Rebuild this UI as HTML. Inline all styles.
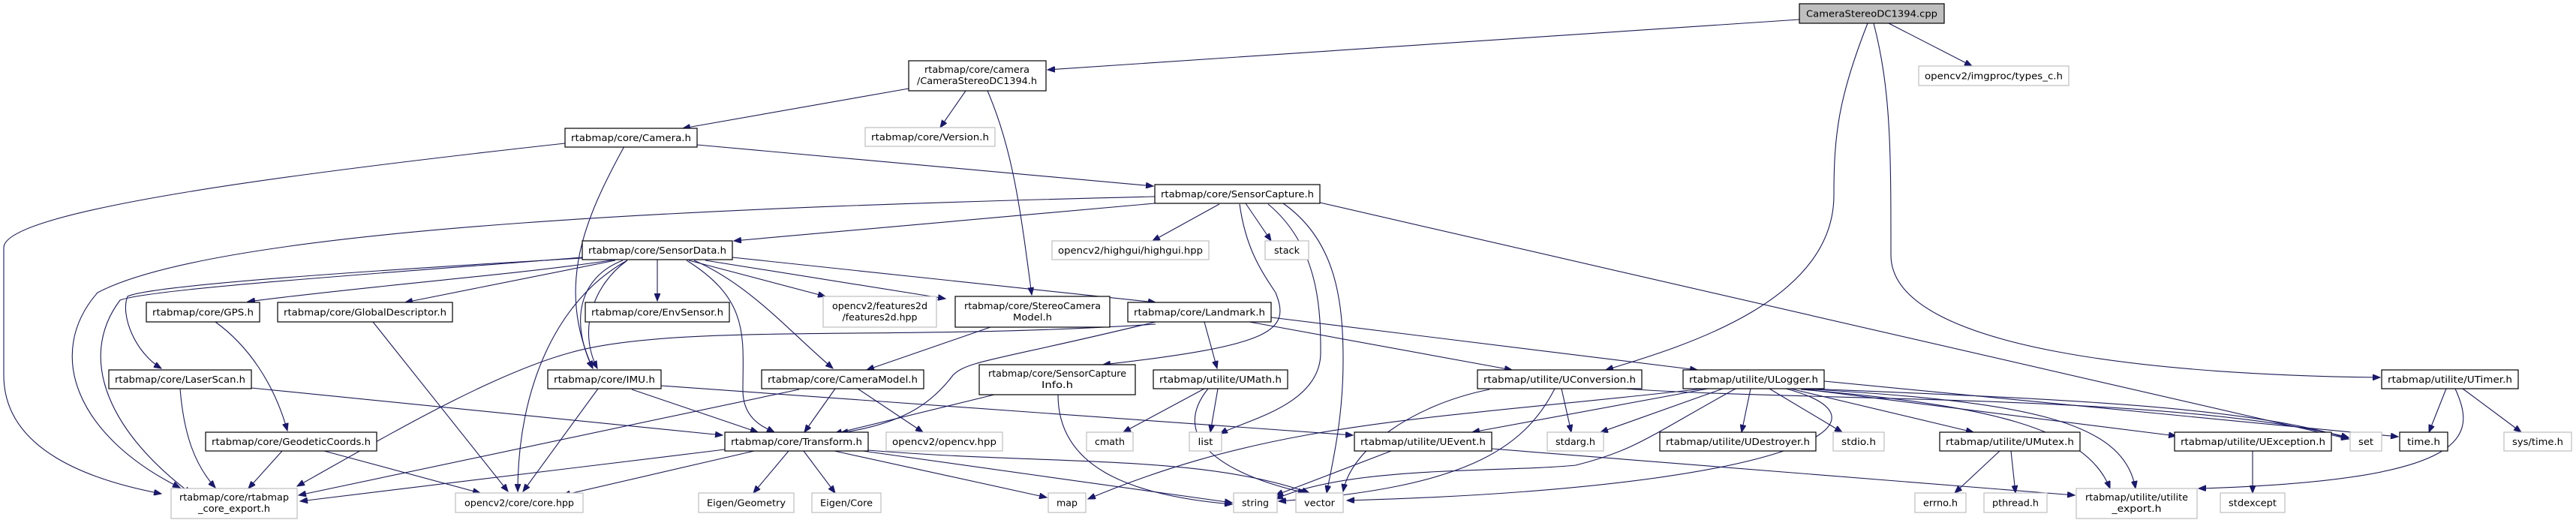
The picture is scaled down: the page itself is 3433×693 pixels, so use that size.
<!DOCTYPE html>
<html><head><meta charset="utf-8"><style>
html,body{margin:0;padding:0;background:#fff;}
svg{display:block;}
text{font-family:"DejaVu Sans","Liberation Sans",sans-serif;font-size:12px;fill:#000;}
.b{fill:#fff;stroke:#000;stroke-width:1.2;}
.g{fill:#fff;stroke:#bfbfbf;stroke-width:1.2;}
.e{fill:none;stroke:#191970;stroke-width:1.1;}
</style></head><body>
<svg width="3433" height="693" viewBox="0 0 3433 693" xmlns="http://www.w3.org/2000/svg">
<defs><marker id="a" markerWidth="11" markerHeight="8" refX="10" refY="4" orient="auto" markerUnits="userSpaceOnUse"><path d="M0,0 L10,4 L0,8 z" fill="#191970" stroke="#191970"/></marker></defs>
<g marker-end="url(#a)">
<path class="e" d="M2398,26 L1396,93"/>
<path class="e" d="M2517,31 L2628,88"/>
<path class="e" d="M2489,31 C2450,130 2444,180 2444,260 C2444,400 2250,460 2140,493"/>
<path class="e" d="M2497,31 C2520,120 2520,200 2520,340 C2520,470 2900,500 3172,503"/>
<path class="e" d="M1211,118 L910,171"/>
<path class="e" d="M1287,121 L1253,170"/>
<path class="e" d="M1316,121 C1350,200 1360,280 1375,393"/>
<path class="e" d="M753,191 C400,230 5,280 5,330 L5,500 C5,600 120,640 215,658"/>
<path class="e" d="M929,193 L1537,248"/>
<path class="e" d="M832,195 C780,290 740,380 790,491"/>
<path class="e" d="M1539,271 L978,321"/>
<path class="e" d="M1539,262 C1000,275 300,300 130,390 C60,470 100,580 240,650"/>
<path class="e" d="M1625,272 L1536,321"/>
<path class="e" d="M1660,271 L1694,321"/>
<path class="e" d="M1690,272 C1760,330 1760,420 1760,470 C1760,540 1660,560 1626,578"/>
<path class="e" d="M1710,271 C1780,320 1790,400 1790,480 C1790,560 1775,620 1768,657"/>
<path class="e" d="M1652,272 C1660,330 1680,360 1700,390 C1720,440 1700,460 1470,486"/>
<path class="e" d="M1759,270 L3130,585"/>
<path class="e" d="M820,346 C700,365 500,380 330,402"/>
<path class="e" d="M820,347 L540,403"/>
<path class="e" d="M876,346 L876,401"/>
<path class="e" d="M830,347 C770,370 760,430 790,491"/>
<path class="e" d="M836,347 C790,380 770,440 796,491"/>
<path class="e" d="M776,344 C500,360 200,380 170,395 C160,420 180,470 215,491"/>
<path class="e" d="M776,343 C500,365 200,385 160,400 C100,480 150,580 255,658"/>
<path class="e" d="M836,347 C740,400 690,520 690,655"/>
<path class="e" d="M918,347 L1100,395"/>
<path class="e" d="M940,347 L1260,398"/>
<path class="e" d="M976,343 L1540,403"/>
<path class="e" d="M925,347 C1000,380 1050,440 1110,491"/>
<path class="e" d="M915,347 C1000,400 990,450 990,520 C990,560 1020,570 1032,576"/>
<path class="e" d="M287,429 C330,460 365,510 383,574"/>
<path class="e" d="M497,429 L677,655"/>
<path class="e" d="M240,518 C245,580 260,620 287,650"/>
<path class="e" d="M335,517 L963,580"/>
<path class="e" d="M797,518 L697,655"/>
<path class="e" d="M842,519 L1010,576"/>
<path class="e" d="M881,514 L1803,580"/>
<path class="e" d="M376,601 L331,651"/>
<path class="e" d="M432,601 L640,657"/>
<path class="e" d="M1320,436 L1155,493"/>
<path class="e" d="M1113,518 L1072,576"/>
<path class="e" d="M1143,518 L1230,576"/>
<path class="e" d="M1065,519 L398,660"/>
<path class="e" d="M1540,429 C1330,480 1290,480 1270,500 C1240,540 1200,565 1120,577"/>
<path class="e" d="M1540,432 C1200,455 900,430 760,470 C650,500 500,590 396,648"/>
<path class="e" d="M1605,429 L1622,491"/>
<path class="e" d="M1665,429 L2015,493"/>
<path class="e" d="M1694,423 L2262,493"/>
<path class="e" d="M1325,526 L1112,578"/>
<path class="e" d="M1410,526 C1410,620 1500,660 1642,672"/>
<path class="e" d="M1605,518 L1497,576"/>
<path class="e" d="M1623,518 L1613,576"/>
<path class="e" d="M1610,518 C1560,580 1620,630 1740,657"/>
<path class="e" d="M1051,601 L1004,657"/>
<path class="e" d="M1071,601 L1113,657"/>
<path class="e" d="M1112,601 L1395,663"/>
<path class="e" d="M1150,601 L1642,670"/>
<path class="e" d="M1157,600 C1400,620 1600,605 1745,657"/>
<path class="e" d="M966,599 L400,668"/>
<path class="e" d="M1005,601 L750,660"/>
<path class="e" d="M2072,518 C2030,600 1950,650 1704,668"/>
<path class="e" d="M1985,519 C1880,540 1800,600 1790,655"/>
<path class="e" d="M2081,518 L2094,576"/>
<path class="e" d="M2165,518 C2400,535 2900,525 3130,583"/>
<path class="e" d="M2276,518 L1962,576"/>
<path class="e" d="M2270,518 C1900,560 1700,560 1450,665"/>
<path class="e" d="M2296,518 L2133,576"/>
<path class="e" d="M2313,518 C2200,580 2180,600 2100,620 C2000,630 1800,620 1700,665"/>
<path class="e" d="M2380,518 C2540,560 2400,650 1795,667"/>
<path class="e" d="M2333,518 L2321,576"/>
<path class="e" d="M2358,518 L2455,576"/>
<path class="e" d="M2386,518 L2630,576"/>
<path class="e" d="M2400,518 L2900,581"/>
<path class="e" d="M2410,518 C2700,530 3000,540 3130,585"/>
<path class="e" d="M2431,508 L3196,582"/>
<path class="e" d="M2400,518 C2700,535 2830,560 2846,651"/>
<path class="e" d="M2400,519 C2650,540 2780,570 2812,651"/>
<path class="e" d="M1988,598 L2765,660"/>
<path class="e" d="M1854,601 L1700,660"/>
<path class="e" d="M2665,601 L2605,657"/>
<path class="e" d="M2680,601 L2686,657"/>
<path class="e" d="M3002,601 L3002,657"/>
<path class="e" d="M3260,518 L3237,576"/>
<path class="e" d="M3282,518 L3360,576"/>
<path class="e" d="M3272,518 C3300,580 3300,640 2930,651"/>
</g>
<g text-anchor="middle">
<rect x="2398" y="5" width="193" height="26" fill="#bfbfbf" stroke="#000" stroke-width="1.2"/><text x="2494.5" y="22.5" textLength="175" lengthAdjust="spacingAndGlyphs">CameraStereoDC1394.cpp</text>
<rect class="b" x="1211" y="81" width="183" height="40"/><text x="1302" y="97" textLength="140" lengthAdjust="spacingAndGlyphs">rtabmap/core/camera</text><text x="1302" y="112" textLength="160" lengthAdjust="spacingAndGlyphs">/CameraStereoDC1394.h</text>
<rect class="g" x="2557" y="88" width="200" height="26"/><text x="2657" y="105.5" textLength="184" lengthAdjust="spacingAndGlyphs">opencv2/imgproc/types_c.h</text>
<rect class="b" x="753" y="171" width="176" height="25"/><text x="841" y="188" textLength="160" lengthAdjust="spacingAndGlyphs">rtabmap/core/Camera.h</text>
<rect class="g" x="1153" y="170" width="173" height="25"/><text x="1239.5" y="187" textLength="157" lengthAdjust="spacingAndGlyphs">rtabmap/core/Version.h</text>
<rect class="b" x="1539" y="246" width="220" height="25"/><text x="1649" y="263" textLength="204" lengthAdjust="spacingAndGlyphs">rtabmap/core/SensorCapture.h</text>
<rect class="b" x="776" y="321" width="200" height="25"/><text x="876" y="338" textLength="184" lengthAdjust="spacingAndGlyphs">rtabmap/core/SensorData.h</text>
<rect class="g" x="1402" y="321" width="209" height="25"/><text x="1506.5" y="338" textLength="193" lengthAdjust="spacingAndGlyphs">opencv2/highgui/highgui.hpp</text>
<rect class="g" x="1686" y="321" width="58" height="25"/><text x="1715" y="338" textLength="34" lengthAdjust="spacingAndGlyphs">stack</text>
<rect class="b" x="195" y="403" width="151" height="26"/><text x="270.5" y="420.5" textLength="135" lengthAdjust="spacingAndGlyphs">rtabmap/core/GPS.h</text>
<rect class="b" x="370" y="403" width="233" height="26"/><text x="486.5" y="420.5" textLength="217" lengthAdjust="spacingAndGlyphs">rtabmap/core/GlobalDescriptor.h</text>
<rect class="b" x="780" y="403" width="192" height="26"/><text x="876" y="420.5" textLength="176" lengthAdjust="spacingAndGlyphs">rtabmap/core/EnvSensor.h</text>
<rect class="g" x="1097" y="395" width="151" height="41"/><text x="1172.5" y="412" textLength="127" lengthAdjust="spacingAndGlyphs">opencv2/features2d</text><text x="1172.5" y="427" textLength="100" lengthAdjust="spacingAndGlyphs">/features2d.hpp</text>
<rect class="b" x="1273" y="395" width="206" height="41"/><text x="1376" y="412" textLength="182" lengthAdjust="spacingAndGlyphs">rtabmap/core/StereoCamera</text><text x="1376" y="427" textLength="52" lengthAdjust="spacingAndGlyphs">Model.h</text>
<rect class="b" x="1503" y="403" width="191" height="26"/><text x="1598.5" y="420.5" textLength="175" lengthAdjust="spacingAndGlyphs">rtabmap/core/Landmark.h</text>
<rect class="b" x="145" y="493" width="190" height="25"/><text x="240" y="510" textLength="174" lengthAdjust="spacingAndGlyphs">rtabmap/core/LaserScan.h</text>
<rect class="b" x="730" y="493" width="151" height="25"/><text x="805.5" y="510" textLength="135" lengthAdjust="spacingAndGlyphs">rtabmap/core/IMU.h</text>
<rect class="b" x="1015" y="493" width="216" height="25"/><text x="1123" y="510" textLength="200" lengthAdjust="spacingAndGlyphs">rtabmap/core/CameraModel.h</text>
<rect class="b" x="1305" y="486" width="208" height="40"/><text x="1409" y="502" textLength="184" lengthAdjust="spacingAndGlyphs">rtabmap/core/SensorCapture</text><text x="1409" y="517" textLength="42" lengthAdjust="spacingAndGlyphs">Info.h</text>
<rect class="b" x="1537" y="493" width="179" height="25"/><text x="1626.5" y="510" textLength="163" lengthAdjust="spacingAndGlyphs">rtabmap/utilite/UMath.h</text>
<rect class="b" x="1969" y="493" width="219" height="25"/><text x="2078.5" y="510" textLength="203" lengthAdjust="spacingAndGlyphs">rtabmap/utilite/UConversion.h</text>
<rect class="b" x="2243" y="493" width="188" height="25"/><text x="2337" y="510" textLength="172" lengthAdjust="spacingAndGlyphs">rtabmap/utilite/ULogger.h</text>
<rect class="b" x="3174" y="493" width="182" height="25"/><text x="3265" y="510" textLength="166" lengthAdjust="spacingAndGlyphs">rtabmap/utilite/UTimer.h</text>
<rect class="b" x="274" y="576" width="228" height="25"/><text x="388" y="593" textLength="212" lengthAdjust="spacingAndGlyphs">rtabmap/core/GeodeticCoords.h</text>
<rect class="b" x="966" y="576" width="191" height="25"/><text x="1061.5" y="593" textLength="175" lengthAdjust="spacingAndGlyphs">rtabmap/core/Transform.h</text>
<rect class="g" x="1181" y="576" width="155" height="25"/><text x="1258.5" y="593" textLength="139" lengthAdjust="spacingAndGlyphs">opencv2/opencv.hpp</text>
<rect class="g" x="1448" y="576" width="62" height="25"/><text x="1479" y="593" textLength="40" lengthAdjust="spacingAndGlyphs">cmath</text>
<rect class="g" x="1585" y="576" width="43" height="25"/><text x="1606.5" y="593" textLength="20" lengthAdjust="spacingAndGlyphs">list</text>
<rect class="b" x="1805" y="576" width="183" height="25"/><text x="1896.5" y="593" textLength="167" lengthAdjust="spacingAndGlyphs">rtabmap/utilite/UEvent.h</text>
<rect class="g" x="2062" y="576" width="75" height="25"/><text x="2099.5" y="593" textLength="53" lengthAdjust="spacingAndGlyphs">stdarg.h</text>
<rect class="b" x="2212" y="576" width="208" height="25"/><text x="2316" y="593" textLength="192" lengthAdjust="spacingAndGlyphs">rtabmap/utilite/UDestroyer.h</text>
<rect class="g" x="2443" y="576" width="68" height="25"/><text x="2477" y="593" textLength="46" lengthAdjust="spacingAndGlyphs">stdio.h</text>
<rect class="b" x="2585" y="576" width="187" height="25"/><text x="2678.5" y="593" textLength="171" lengthAdjust="spacingAndGlyphs">rtabmap/utilite/UMutex.h</text>
<rect class="b" x="2898" y="576" width="209" height="25"/><text x="3002.5" y="593" textLength="193" lengthAdjust="spacingAndGlyphs">rtabmap/utilite/UException.h</text>
<rect class="g" x="3132" y="576" width="42" height="25"/><text x="3153" y="593" textLength="20" lengthAdjust="spacingAndGlyphs">set</text>
<rect class="b" x="3198" y="576" width="64" height="25"/><text x="3230" y="593" textLength="44" lengthAdjust="spacingAndGlyphs">time.h</text>
<rect class="g" x="3337" y="576" width="90" height="25"/><text x="3382" y="593" textLength="68" lengthAdjust="spacingAndGlyphs">sys/time.h</text>
<rect class="g" x="228" y="651" width="168" height="40"/><text x="312" y="667" textLength="146" lengthAdjust="spacingAndGlyphs">rtabmap/core/rtabmap</text><text x="312" y="682" textLength="96" lengthAdjust="spacingAndGlyphs">_core_export.h</text>
<rect class="g" x="607" y="657" width="170" height="26"/><text x="692" y="674.5" textLength="146" lengthAdjust="spacingAndGlyphs">opencv2/core/core.hpp</text>
<rect class="g" x="931" y="657" width="127" height="26"/><text x="994.5" y="674.5" textLength="105" lengthAdjust="spacingAndGlyphs">Eigen/Geometry</text>
<rect class="g" x="1082" y="657" width="92" height="26"/><text x="1128" y="674.5" textLength="70" lengthAdjust="spacingAndGlyphs">Eigen/Core</text>
<rect class="g" x="1397" y="657" width="50" height="26"/><text x="1422" y="674.5" textLength="28" lengthAdjust="spacingAndGlyphs">map</text>
<rect class="g" x="1644" y="657" width="58" height="26"/><text x="1673" y="674.5" textLength="36" lengthAdjust="spacingAndGlyphs">string</text>
<rect class="g" x="1727" y="657" width="63" height="26"/><text x="1758.5" y="674.5" textLength="41" lengthAdjust="spacingAndGlyphs">vector</text>
<rect class="g" x="2552" y="657" width="68" height="26"/><text x="2586" y="674.5" textLength="46" lengthAdjust="spacingAndGlyphs">errno.h</text>
<rect class="g" x="2644" y="657" width="84" height="26"/><text x="2686" y="674.5" textLength="62" lengthAdjust="spacingAndGlyphs">pthread.h</text>
<rect class="g" x="2767" y="651" width="161" height="40"/><text x="2847.5" y="667" textLength="137" lengthAdjust="spacingAndGlyphs">rtabmap/utilite/utilite</text><text x="2847.5" y="682" textLength="66" lengthAdjust="spacingAndGlyphs">_export.h</text>
<rect class="g" x="2959" y="657" width="86" height="26"/><text x="3002" y="674.5" textLength="64" lengthAdjust="spacingAndGlyphs">stdexcept</text>
</g>
</svg>
</body></html>
